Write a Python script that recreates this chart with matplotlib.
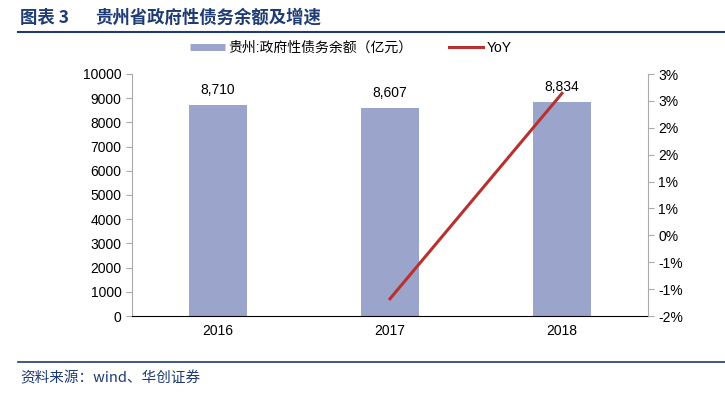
import matplotlib.pyplot as plt
import matplotlib.ticker as mticker
from matplotlib.lines import Line2D

plt.rcParams['font.family'] = ['Liberation Sans', 'Noto Sans CJK SC', 'DejaVu Sans']

years = ["2016", "2017", "2018"]
debt = [8710, 8607, 8834]
yoy_years = ["2017", "2018"]
yoy = [-1.18, 2.64]

bar_color = '#9ba5cc'
line_color = '#b8312f'

fig = plt.figure(figsize=(7.25, 3.94), dpi=100)
ax = fig.add_axes([132 / 725, 1 - 316 / 394, 516 / 725, 242 / 394])
x = list(range(len(years)))
ax.bar(x, debt, width=0.34, color=bar_color, zorder=2)
for xi, v in zip(x, debt):
    ax.text(xi, v + 320, f"{v:,}", ha='center', va='bottom', fontsize=10)
ax.set_xlim(-0.5, 2.5)
ax.set_ylim(0, 10000)
ax.set_yticks(range(0, 10001, 1000))
ax.set_xticks(x)
ax.set_xticklabels(years, fontsize=10)
ax.tick_params(axis='x', length=0, pad=6)
ax.tick_params(axis='y', labelsize=10, color='#aaaaaa', length=4)
for s in ['top', 'right']:
    ax.spines[s].set_visible(False)
ax.spines['left'].set_color('#aaaaaa')
ax.spines['bottom'].set_color('black')

ax2 = ax.twinx()
xi2 = [years.index(y) for y in yoy_years]
ax2.plot(xi2, yoy, color=line_color, lw=2.2, zorder=3)
ax2.set_ylim(-1.5, 3.0)
ax2.set_yticks([-1.5 + 0.5 * i for i in range(10)])
ax2.yaxis.set_major_formatter(mticker.FuncFormatter(
    lambda v, p: f"{int(v + 0.5) if v >= 0 else -int(-v + 0.5)}%"))
ax2.tick_params(axis='y', labelsize=10, color='#aaaaaa', length=4)
for s in ['top', 'left', 'bottom']:
    ax2.spines[s].set_visible(False)
ax2.spines['right'].set_color('#aaaaaa')

handles = [Line2D([], [], color=bar_color, lw=5, solid_capstyle='butt'),
           Line2D([], [], color=line_color, lw=2.2)]
labels = ['贵州:政府性债务余额（亿元）', 'YoY']
fig.legend(handles, labels, loc='center', bbox_to_anchor=(351 / 725, 1 - 48 / 394), ncol=2,
           frameon=False, fontsize=10, handlelength=2.5, handletextpad=0.25, columnspacing=2.6)

fig.text(20 / 725, 1 - 18 / 394, "图表 3", fontsize=12.5,
         fontweight='bold', color='#1f3b73', va='center', family=['Noto Sans CJK SC'])
fig.text(95 / 725, 1 - 18 / 394, "贵州省政府性债务余额及增速", fontsize=12.5,
         fontweight='bold', color='#1f3b73', va='center', family=['Noto Sans CJK SC'])
fig.add_artist(Line2D([18 / 725, 1], [1 - 32 / 394] * 2, color='#1f3b73', lw=1.5))
fig.add_artist(Line2D([18 / 725, 1], [1 - 362 / 394] * 2, color='#1f3b73', lw=1.2))
fig.text(20 / 725, 1 - 378 / 394, "资料来源：wind、华创证券", fontsize=10.5, style='italic',
         color='#1f3b73', va='center', family=['Noto Sans CJK SC'])

fig.savefig("out.png", dpi=100)
